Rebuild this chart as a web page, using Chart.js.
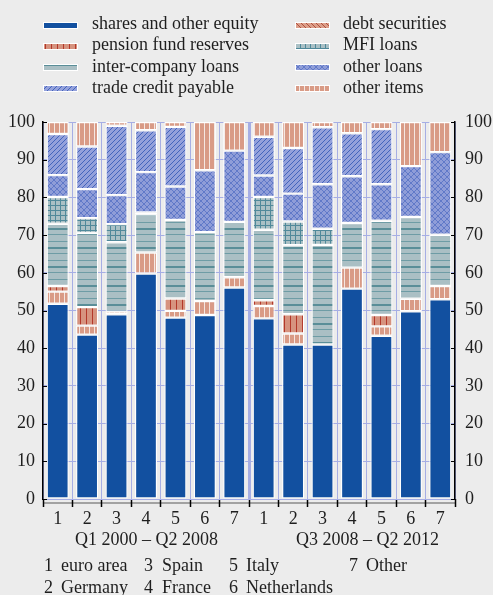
<!DOCTYPE html>
<html><head><meta charset="utf-8">
<script src="https://cdn.jsdelivr.net/npm/chart.js@4.4.1/dist/chart.umd.min.js"></script>
<style>
html,body{margin:0;padding:0;background:#ececec;}
#wrap{position:relative;width:493px;height:595px;overflow:hidden;font-family:'Liberation Serif','Times New Roman',serif;font-size:18px;color:#1e1e1e;}
#chart{position:absolute;left:0;top:0;}
.t{position:absolute;white-space:nowrap;line-height:20px;}
.sw{position:absolute;width:35px;height:7px;}
</style></head>
<body><div id="wrap"><canvas id="chart" width="493" height="595"></canvas></div>
<script>
// ---- data ----
const categories = ['1','2','3','4','5','6','7','1','2','3','4','5','6','7'];
const periodLabels = ['Q1 2000 \u2013 Q2 2008', 'Q3 2008 \u2013 Q2 2012'];
const countryKeys = [['1','euro area'],['2','Germany'],['3','Spain'],['4','France'],['5','Italy'],['6','Netherlands'],['7','Other']];
const yTicks = [0,10,20,30,40,50,60,70,80,90,100];
const shares        = [51.8,43.6,49.0,59.8,48.1,48.8,56.1,47.9,41.0,41.0,55.8,43.3,49.8,53.0];
const debtSecurities= [3.2,2.4,0.7,5.6,1.8,3.7,2.7,3.3,2.9,0,5.6,2.5,3.3,3.5];
const pensionFund   = [1.5,4.9,0,0,3.3,0,0,1.5,5.1,0,0,3.0,0,0];
const interCompany  = [16.5,19.7,18.4,10.1,20.8,18.3,14.7,18.7,18.3,26.4,11.8,25.0,21.7,13.6];
const mfiLoans      = [7.1,3.9,4.8,0.5,0,0,0,8.7,6.3,4.3,0,0,0,0];
const otherLoans    = [5.8,7.7,7.7,10.7,8.9,16.4,18.9,5.7,7.4,11.8,12.4,9.7,13.5,21.9];
const tradeCredit   = [10.9,11.3,18.4,11.1,15.8,0,0,10.3,12.1,15.1,11.4,14.6,0,0];
const otherItems    = [3.2,6.5,1.0,2.2,1.3,12.8,7.6,3.9,6.9,1.4,3.0,1.9,11.7,8.0];

// ---- patterns ----
function tile(w,h,fn){const c=document.createElement('canvas');c.width=w;c.height=h;fn(c.getContext('2d'),w,h);return c;}
const canvas=document.getElementById('chart');
const pctx=canvas.getContext('2d');
const tiles={
  shares: tile(1,1,g=>{g.fillStyle='#1250a0';g.fillRect(0,0,1,1);}),
  debt: tile(5,1,g=>{g.fillStyle='#d99b86';g.fillRect(0,0,5,1);g.fillStyle='#f5e7e1';g.fillRect(4,0,1,1);}),
  debtLegend: tile(5,5,g=>{g.fillStyle='#dc9f8a';g.fillRect(0,0,5,5);g.fillStyle='#b0503e';for(let i=0;i<5;i++)g.fillRect(i,i,1,1);}),
  pension: tile(6,1,g=>{g.fillStyle='#d6937f';g.fillRect(0,0,6,1);g.fillStyle='#b3382a';g.fillRect(2,0,1,1);}),
  inter: tile(1,19,g=>{g.fillStyle='#aabfc4';g.fillRect(0,0,1,19);g.fillStyle='#5a8e98';g.fillRect(0,0,1,2);g.fillStyle='#6e9ca5';g.fillRect(0,6,1,1);g.fillRect(0,13,1,1);}),
  mfi: tile(5,5,g=>{g.fillStyle='#aac0c5';g.fillRect(0,0,5,5);g.fillStyle='#50899a';g.fillRect(0,0,5,1);g.fillRect(0,0,1,5);}),
  otherLoans: tile(6,6,g=>{g.fillStyle='#8f9dd8';g.fillRect(0,0,6,6);g.fillStyle='#6079c8';for(let i=0;i<6;i++){g.fillRect(i,i,1,1);g.fillRect(5-i,i,1,1);}}),
  trade: tile(5,5,g=>{g.fillStyle='#94a1db';g.fillRect(0,0,5,5);g.fillStyle='#4465bd';for(let i=0;i<5;i++)g.fillRect(4-i,i,1,1);}),
  otherItems: tile(5,1,g=>{g.fillStyle='#d99b86';g.fillRect(0,0,5,1);g.fillStyle='#f5e7e1';g.fillRect(4,0,1,1);})
};
const pat=t=>pctx.createPattern(t,'repeat');

const series=[
  {label:'shares and other equity', data:shares, tile:'shares', lt:'shares', col:0,row:0},
  {label:'debt securities', data:debtSecurities, tile:'debt', lt:'debtLegend', col:1,row:0},
  {label:'pension fund reserves', data:pensionFund, tile:'pension', lt:'pension', col:0,row:1},
  {label:'inter-company loans', data:interCompany, tile:'inter', lt:'inter', col:0,row:2},
  {label:'MFI loans', data:mfiLoans, tile:'mfi', lt:'mfi', col:1,row:1},
  {label:'other loans', data:otherLoans, tile:'otherLoans', lt:'otherLoans', col:1,row:2},
  {label:'trade credit payable', data:tradeCredit, tile:'trade', lt:'trade', col:0,row:3},
  {label:'other items', data:otherItems, tile:'otherItems', lt:'otherItems', col:1,row:3}
];

const GRID='#a6aee4';
const FONT={family:"'Liberation Serif','Times New Roman',serif",size:18};
const decor={
  id:'decor',
  beforeDraw(chart){
    const {ctx,chartArea:a}=chart;
    ctx.save();ctx.strokeStyle='#8a8a8a';ctx.lineWidth=1.6;
    ctx.beginPath();ctx.moveTo(a.left,a.bottom+4);ctx.lineTo(a.right,a.bottom+4);ctx.stroke();
    ctx.restore();
  },
  afterDraw(chart){
    const {ctx,chartArea:a,scales}=chart;
    const y=scales.y;
    ctx.save();ctx.strokeStyle='#000';ctx.lineWidth=1.2;
    y.ticks.forEach(t=>{const p=Math.round(y.getPixelForValue(t.value))+0.5;
      ctx.beginPath();ctx.moveTo(a.left,p);ctx.lineTo(a.left+4,p);ctx.moveTo(a.right,p);ctx.lineTo(a.right-4,p);ctx.stroke();});
    ctx.restore();
  }
};

const chart=new Chart(canvas,{
  type:'bar',
  data:{labels:categories,datasets:series.map(s=>({label:s.label,data:s.data,backgroundColor:pat(tiles[s.tile]),
    borderColor:'#ffffff',borderWidth:1.2,borderSkipped:false,barPercentage:0.75,categoryPercentage:1,stack:'a'}))},
  options:{
    responsive:false,animation:false,
    layout:{padding:{top:122,left:0,right:0,bottom:66}},
    plugins:{legend:{display:false},tooltip:{enabled:false}},
    scales:{
      x:{stacked:true,border:{display:false},
        grid:{offset:true,color:GRID,lineWidth:c=>c.index===7?3:1,tickColor:'#000',tickLength:8,tickWidth:1.5},
        ticks:{font:FONT,color:'#1e1e1e',padding:1,autoSkip:false,maxRotation:0},
        afterFit:s=>{s.height=30;}},
      y:{stacked:true,min:0,max:100,
        afterBuildTicks:s=>{s.ticks=yTicks.map(v=>({value:v}));},
        ticks:{font:FONT,color:'#1e1e1e',padding:8},
        grid:{color:GRID,lineWidth:1,drawTicks:false},
        border:{color:'#000',width:1.5},
        afterFit:s=>{s.width=43;}},
      y2:{type:'linear',position:'right',min:0,max:100,
        afterBuildTicks:s=>{s.ticks=yTicks.map(v=>({value:v}));},
        ticks:{font:FONT,color:'#1e1e1e',padding:10},
        grid:{drawOnChartArea:false,drawTicks:false},
        border:{color:'#000',width:1.5},
        afterFit:s=>{s.width=38;}}
    }
  },
  plugins:[decor]
});

// ---- HTML legend and notes ----
const wrap=document.getElementById('wrap');
function txt(s,x,base){const d=document.createElement('div');d.className='t';d.textContent=s;d.style.left=x+'px';d.style.top=(base-16)+'px';wrap.appendChild(d);return d;}
const colSw=[43,295], colTx=[92,343];
series.forEach(s=>{
  const base=29.3+21.1*s.row;
  const c=document.createElement('canvas');c.width=35;c.height=7;c.className='sw';
  c.style.left=colSw[s.col]+'px';c.style.top=(base-7.8)+'px';
  const g=c.getContext('2d');g.fillStyle=g.createPattern(tiles[s.lt],'repeat');g.fillRect(0,0,35,7);
  g.strokeStyle='#fff';g.lineWidth=1;g.strokeRect(0.5,0.5,34,6);
  wrap.appendChild(c);
  txt(s.label,colTx[s.col],base);
});
txt(periodLabels[0],75,545);
txt(periodLabels[1],296,545);
const keyPos=[[44,61],[144,162],[229,246],[349,366]];
countryKeys.forEach((k,i)=>{const col=Math.floor(i/2),row=i%2;const base=row?592.5:570.7;
  txt(k[0],keyPos[col][0],base);txt(k[1],keyPos[col][1],base);});
</script></body></html>
